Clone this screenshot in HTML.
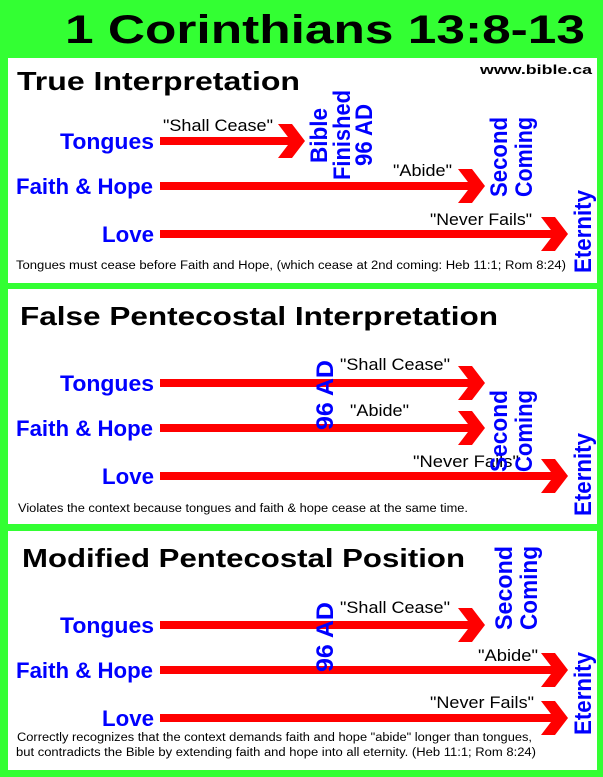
<!DOCTYPE html>
<html><head><meta charset="utf-8"><style>
html,body{margin:0;padding:0;background:#33ff33;}
svg{display:block}
.t{font-family:"Liberation Sans",sans-serif;font-weight:bold}
.b{font-family:"Liberation Sans",sans-serif;font-weight:bold;fill:#0000ff}
.q{font-family:"Liberation Sans",sans-serif;fill:#000}
</style></head><body>
<svg width="603" height="777" viewBox="0 0 603 777" xmlns="http://www.w3.org/2000/svg">
<defs>
<symbol id="none"></symbol>
</defs>
<rect x="0" y="0" width="603" height="777" fill="#33ff33"/>
<rect x="8" y="58" width="589" height="225" fill="#fff"/>
<rect x="8" y="289" width="589" height="235" fill="#fff"/>
<rect x="8" y="531" width="589" height="239" fill="#fff"/>

<text class="t" x="65" y="43" font-size="40" textLength="520" lengthAdjust="spacingAndGlyphs">1 Corinthians 13:8-13</text>

<!-- Panel 1 -->
<text class="t" x="17" y="90" font-size="26" textLength="283" lengthAdjust="spacingAndGlyphs">True Interpretation</text>
<text class="t" x="480" y="74" font-size="13" textLength="112" lengthAdjust="spacingAndGlyphs">www.bible.ca</text>

<g fill="#ff0000">
<!-- arrow macro: shaft y center c, tip x -->
<rect x="160" y="137" width="132" height="8"/><polygon points="278,124 292,124 305,141 292,158 278,158 291,141"/>
<rect x="160" y="182" width="312" height="8"/><polygon points="458,169 472,169 485,186 472,203 458,203 471,186"/>
<rect x="160" y="230" width="395" height="8"/><polygon points="541,217 555,217 568,234 555,251 541,251 554,234"/>

<rect x="160" y="379" width="312" height="8"/><polygon points="458,366 472,366 485,383 472,400 458,400 471,383"/>
<rect x="160" y="424" width="312" height="8"/><polygon points="458,411 472,411 485,428 472,445 458,445 471,428"/>
<rect x="160" y="472" width="395" height="8"/><polygon points="541,459 555,459 568,476 555,493 541,493 554,476"/>

<rect x="160" y="621" width="312" height="8"/><polygon points="458,608 472,608 485,625 472,642 458,642 471,625"/>
<rect x="160" y="666" width="395" height="8"/><polygon points="541,653 555,653 568,670 555,687 541,687 554,670"/>
<rect x="160" y="714" width="395" height="8"/><polygon points="541,701 555,701 568,718 555,735 541,735 554,718"/>
</g>

<text class="b" x="154" y="149" font-size="22" text-anchor="end" textLength="94" lengthAdjust="spacingAndGlyphs">Tongues</text>
<text class="b" x="153" y="194" font-size="22" text-anchor="end" textLength="137" lengthAdjust="spacingAndGlyphs">Faith &amp; Hope</text>
<text class="b" x="154" y="242" font-size="22" text-anchor="end" textLength="52" lengthAdjust="spacingAndGlyphs">Love</text>
<text class="q" x="163" y="131" font-size="17" textLength="110" lengthAdjust="spacingAndGlyphs">"Shall Cease"</text>
<text class="q" x="393" y="176" font-size="17" textLength="59" lengthAdjust="spacingAndGlyphs">"Abide"</text>
<text class="q" x="430" y="225" font-size="17" textLength="102" lengthAdjust="spacingAndGlyphs">"Never Fails"</text>
<g class="b" font-size="24">
<text transform="translate(327,163) rotate(-90)" textLength="55" lengthAdjust="spacingAndGlyphs">Bible</text>
<text transform="translate(350,180) rotate(-90)" textLength="90" lengthAdjust="spacingAndGlyphs">Finished</text>
<text transform="translate(372,166) rotate(-90)" textLength="62" lengthAdjust="spacingAndGlyphs">96 AD</text>
<text transform="translate(507,197) rotate(-90)" textLength="80" lengthAdjust="spacingAndGlyphs">Second</text>
<text transform="translate(532,197) rotate(-90)" textLength="80" lengthAdjust="spacingAndGlyphs">Coming</text>
<text transform="translate(591,273) rotate(-90)" textLength="83" lengthAdjust="spacingAndGlyphs">Eternity</text>
</g>
<text class="q" x="16" y="269" font-size="11.5" textLength="550" lengthAdjust="spacingAndGlyphs">Tongues must cease before Faith and Hope, (which cease at 2nd coming: Heb 11:1; Rom 8:24)</text>

<!-- Panel 2 -->
<text class="t" x="20" y="325" font-size="26" textLength="478" lengthAdjust="spacingAndGlyphs">False Pentecostal Interpretation</text>
<text class="b" x="154" y="391" font-size="22" text-anchor="end" textLength="94" lengthAdjust="spacingAndGlyphs">Tongues</text>
<text class="b" x="153" y="436" font-size="22" text-anchor="end" textLength="137" lengthAdjust="spacingAndGlyphs">Faith &amp; Hope</text>
<text class="b" x="154" y="484" font-size="22" text-anchor="end" textLength="52" lengthAdjust="spacingAndGlyphs">Love</text>
<text class="q" x="340" y="370" font-size="17" textLength="110" lengthAdjust="spacingAndGlyphs">"Shall Cease"</text>
<text class="q" x="350" y="416" font-size="17" textLength="59" lengthAdjust="spacingAndGlyphs">"Abide"</text>
<text class="q" x="413" y="467" font-size="17" textLength="106" lengthAdjust="spacingAndGlyphs">"Never Fails"</text>
<g class="b" font-size="24">
<text transform="translate(333,430) rotate(-90)" textLength="70" lengthAdjust="spacingAndGlyphs">96  AD</text>
<text transform="translate(507,472) rotate(-90)" textLength="82" lengthAdjust="spacingAndGlyphs">Second</text>
<text transform="translate(532,472) rotate(-90)" textLength="82" lengthAdjust="spacingAndGlyphs">Coming</text>
<text transform="translate(591,516) rotate(-90)" textLength="83" lengthAdjust="spacingAndGlyphs">Eternity</text>
</g>
<text class="q" x="18" y="512" font-size="11.5" textLength="450" lengthAdjust="spacingAndGlyphs">Violates the context because tongues and faith &amp; hope cease at the same time.</text>

<!-- Panel 3 -->
<text class="t" x="22" y="567" font-size="26" textLength="443" lengthAdjust="spacingAndGlyphs">Modified Pentecostal Position</text>
<text class="b" x="154" y="633" font-size="22" text-anchor="end" textLength="94" lengthAdjust="spacingAndGlyphs">Tongues</text>
<text class="b" x="153" y="678" font-size="22" text-anchor="end" textLength="137" lengthAdjust="spacingAndGlyphs">Faith &amp; Hope</text>
<text class="b" x="154" y="726" font-size="22" text-anchor="end" textLength="52" lengthAdjust="spacingAndGlyphs">Love</text>
<text class="q" x="340" y="613" font-size="17" textLength="110" lengthAdjust="spacingAndGlyphs">"Shall Cease"</text>
<text class="q" x="478" y="661" font-size="17" textLength="60" lengthAdjust="spacingAndGlyphs">"Abide"</text>
<text class="q" x="430" y="708" font-size="17" textLength="104" lengthAdjust="spacingAndGlyphs">"Never Fails"</text>
<g class="b" font-size="24">
<text transform="translate(333,672) rotate(-90)" textLength="70" lengthAdjust="spacingAndGlyphs">96  AD</text>
<text transform="translate(512,630) rotate(-90)" textLength="84" lengthAdjust="spacingAndGlyphs">Second</text>
<text transform="translate(537,630) rotate(-90)" textLength="84" lengthAdjust="spacingAndGlyphs">Coming</text>
<text transform="translate(591,735) rotate(-90)" textLength="83" lengthAdjust="spacingAndGlyphs">Eternity</text>
</g>
<text class="q" x="17" y="741" font-size="11.5" textLength="515" lengthAdjust="spacingAndGlyphs">Correctly recognizes that the context demands faith and hope "abide" longer than tongues,</text>
<text class="q" x="16" y756" font-size="11.5" textLength="520" lengthAdjust="spacingAndGlyphs"></text>
<text class="q" x="16" y="756" font-size="11.5" textLength="520" lengthAdjust="spacingAndGlyphs">but contradicts the Bible by extending faith and hope into all eternity. (Heb 11:1; Rom 8:24)</text>
</svg>
</body></html>
